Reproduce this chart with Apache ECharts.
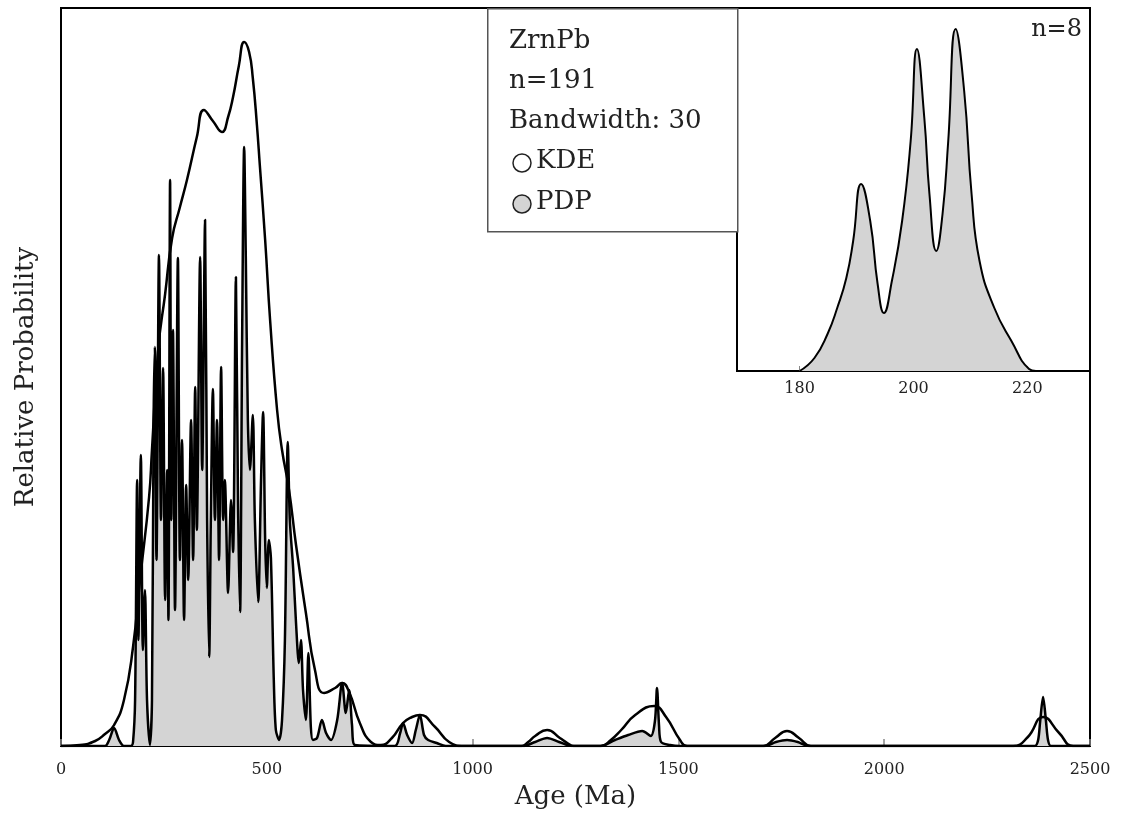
<!DOCTYPE html>
<html>
<head>
<meta charset="utf-8">
<script src="https://cdn.jsdelivr.net/npm/echarts@6/dist/echarts.min.js"></script>
<style>
html,body{margin:0;padding:0;background:#fff;}
#chart{width:1122px;height:819px;}
</style>
</head>
<body>
<div id="chart"></div>
<script>
// ---- data (age in Ma, relative probability in arbitrary units) ----
const kdeAge = [0,46,83,107,129,153,175,192,214,221,236,253,270,289,306,330,347,369,391,406,418,432,445,457,466,476,483,496,508,525,537,554,571,595,617,639,666,683,700,726,753,777,804,831,853,872,909,943,979,1118,1135,1152,1181,1212,1230,1246,1312,1336,1361,1395,1441,1470,1504,1521,1706,1735,1764,1793,1822,2313,2349,2386,2425,2459,2500];
const kdeVal = [0,1,5,12,21,46,99,166,249,296,396,452,508,539,566,609,636,625,614,629,649,680,704,694,668,621,581,506,426,336,296,256,201,133,76,53,58,63,54,23,4,1,8,23,29,31,19,4,0,0,4,10,16,8,3,0,0,6,16,31,40,29,6,0,0,8,15,8,0,0,9,29,13,0,0];

const pdpAge = [0,107,117,129,141,153,170,175,180,185,188,194,199,204,209,216,221,225,228,232,238,243,248,253,258,261,265,268,272,277,284,289,294,299,304,309,316,321,326,330,338,343,350,355,360,364,369,374,379,384,389,394,398,406,413,418,425,430,435,440,445,449,454,459,466,471,479,486,491,496,500,505,510,517,522,530,537,544,551,556,564,571,578,583,588,595,601,607,612,622,634,644,656,671,683,692,700,707,714,811,824,831,841,853,862,872,882,892,913,935,1122,1152,1181,1210,1241,1310,1346,1378,1412,1433,1443,1448,1453,1458,1480,1504,1710,1737,1764,1790,1817,2366,2374,2379,2386,2393,2398,2405,2500];
const pdpVal = [0,0,6,18,6,0,0,4,46,266,106,291,96,156,46,1,46,326,399,186,491,226,378,146,276,126,566,226,416,136,488,186,306,126,261,166,326,186,359,216,489,276,526,226,89,226,357,226,326,186,379,226,266,153,246,194,469,246,134,404,599,489,326,276,331,226,144,266,334,206,158,206,188,66,16,6,26,106,304,226,178,123,83,106,56,26,93,19,6,8,26,13,6,26,63,33,56,21,1,0,13,23,11,3,16,31,11,6,3,0,0,4,8,4,0,0,6,11,15,10,25,58,20,4,1,0,0,4,6,4,0,0,6,25,49,25,6,0,0];

const insetAge = [180.0,182.6,184.9,186.6,188.2,189.4,190.8,192.4,193.7,194.8,196.2,198.0,199.5,200.6,201.9,202.8,204.0,205.1,206.1,207.4,208.9,210.2,211.6,214.2,217.2,220.3,221.5];
const insetVal = [0,13,37,63,93,130,187,150,87,58,90,150,230,322,253,177,120,157,230,342,280,177,110,63,30,2,0];

const mainTicks = [0,500,1000,1500,2000,2500];
const insetTicks = [180,200,220];
const legendLines = ['ZrnPb','n=191','Bandwidth: 30'];
const legendItems = ['KDE','PDP'];
const insetLabel = 'n=8';

// ---- chart ----
const FONT = 'DejaVu Serif';
const zip = (a,b) => a.map((v,i)=>[v,b[i]]);
const chart = echarts.init(document.getElementById('chart'), null, {renderer:'canvas'});

const graphics = [
  {type:'rect', left:487, top:8, shape:{width:250,height:223}, style:{fill:'#fff',stroke:'#555',lineWidth:1.5}, z:50}
];
legendLines.forEach((t,i)=>{
  graphics.push({type:'text', left:509, top:28+i*40, style:{text:t, font:'26px "'+FONT+'"', fill:'#222'}, z:51});
});
legendItems.forEach((t,i)=>{
  graphics.push({type:'circle', shape:{cx:522, cy:163+i*41, r:9}, style:{fill: i===0?'#fff':'#d4d4d4', stroke:'#222', lineWidth:1.5}, z:51});
  graphics.push({type:'text', left:536, top:148+i*41, style:{text:t, font:'26px "'+FONT+'"', fill:'#222'}, z:51});
});
graphics.push({type:'text', right:40, top:18, style:{text:insetLabel, font:'24px "'+FONT+'"', fill:'#222', align:'right'}, z:51});

chart.setOption({
  animation:false,
  backgroundColor:'#fff',
  grid:[
    {left:61, top:8, width:1029, height:738, show:true, borderColor:'#000', borderWidth:2, backgroundColor:'#fff'},
    {left:737, top:8, width:353, height:363, show:true, borderColor:'#000', borderWidth:2, backgroundColor:'#fff', z:10}
  ],
  xAxis:[
    {gridIndex:0, type:'value', min:0, max:2500, interval:500,
     axisLine:{show:false}, splitLine:{show:false},
     axisTick:{show:true, inside:true, length:7, lineStyle:{color:'#888', width:1.5}, customValues:mainTicks},
     axisLabel:{fontFamily:FONT, fontSize:16, color:'#222', margin:16, customValues:mainTicks, formatter:(v)=>String(v)},
     name:'Age (Ma)', nameLocation:'middle', nameGap:38,
     nameTextStyle:{fontFamily:FONT, fontSize:26, color:'#222'}},
    {gridIndex:1, type:'value', min:169, max:231,
     axisLine:{show:false}, splitLine:{show:false},
     axisTick:{show:true, inside:true, length:5, lineStyle:{color:'#888'}, customValues:insetTicks},
     axisLabel:{fontFamily:FONT, fontSize:16, color:'#222', margin:10, customValues:insetTicks, formatter:(v)=>String(v)}, z:10}
  ],
  yAxis:[
    {gridIndex:0, type:'value', min:0, max:738, axisLine:{show:false}, axisTick:{show:false}, axisLabel:{show:false}, splitLine:{show:false},
     name:'Relative Probability', nameLocation:'middle', nameGap:22,
     nameTextStyle:{fontFamily:FONT, fontSize:26, color:'#222'}},
    {gridIndex:1, type:'value', min:0, max:363, axisLine:{show:false}, axisTick:{show:false}, axisLabel:{show:false}, splitLine:{show:false}}
  ],
  series:[
    {type:'line', xAxisIndex:0, yAxisIndex:0, data:zip(pdpAge,pdpVal), showSymbol:false, smooth:0.3,
     lineStyle:{color:'#000', width:2.5}, areaStyle:{color:'#d4d4d4', opacity:1}, z:2},
    {type:'line', xAxisIndex:0, yAxisIndex:0, data:zip(kdeAge,kdeVal), showSymbol:false, smooth:0.5,
     lineStyle:{color:'#000', width:2.5}, z:3},
    {type:'line', xAxisIndex:1, yAxisIndex:1, data:zip(insetAge,insetVal), showSymbol:false, smooth:0.5,
     lineStyle:{color:'#000', width:2}, areaStyle:{color:'#d4d4d4', opacity:1}, z:12}
  ],
  graphic:graphics
});
</script>
</body>
</html>
